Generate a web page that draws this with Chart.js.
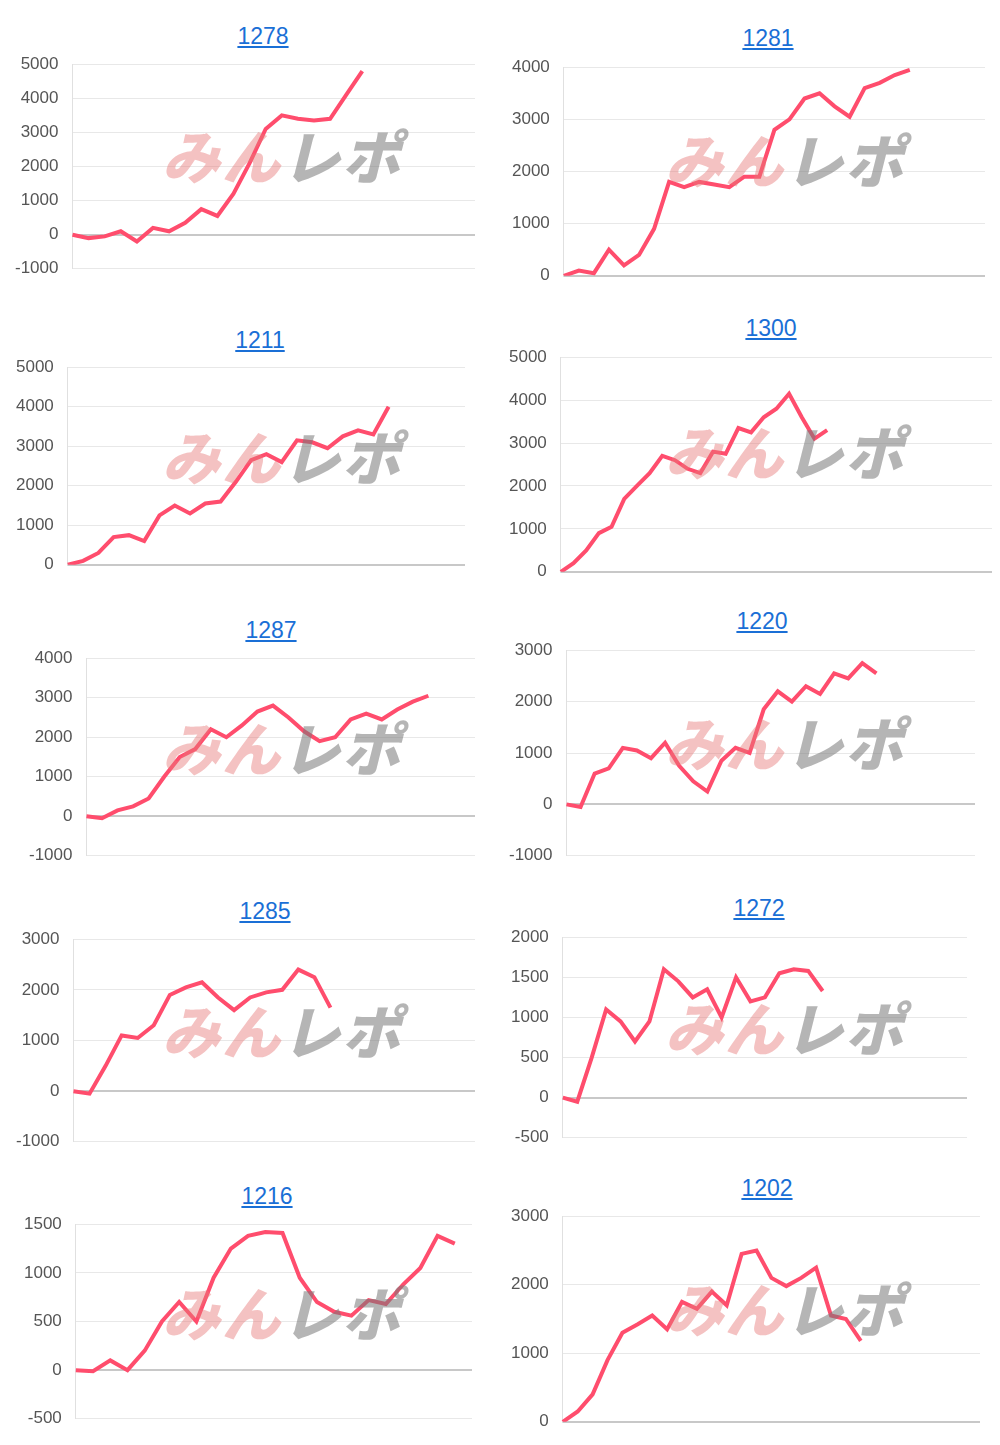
<!DOCTYPE html>
<html>
<head>
<meta charset="utf-8">
<script src="https://cdn.jsdelivr.net/npm/chart.js@4/dist/chart.umd.min.js"></script>
<style>
  body { margin: 0; background: #fff; font-family: "Liberation Sans", Arial, sans-serif; }
  .cell { position: absolute; }
  .ttl { position: absolute; width: 200px; text-align: center; color: #1a6fd6;
    text-decoration: underline; font-size: 23px; }
  .cell canvas { position: absolute; left: 0; }
  .wm { position: absolute; font-weight: 900; font-style: italic; font-size: 58px;
    letter-spacing: 2px; font-family: "Noto Sans CJK JP", sans-serif; pointer-events: none; line-height: 1; }
  .wm .a { color: rgba(230,120,120,0.45); }
  .wm .b { color: rgba(120,120,120,0.55); }
</style>
</head>
<body>
<script>
const titles = ["1278", "1281", "1211", "1300", "1287", "1220", "1285", "1272", "1216", "1202"];
const labelCounts = [26, 29, 27, 35, 26, 30, 26, 29, 24, 29];
const vals1278 = [0, -100, -50, 100, -200, 200, 100, 350, 750, 550, 1200, 2100, 3100, 3500, 3400, 3350, 3400, 4100, 4800];
const vals1281 = [0, 100, 50, 500, 200, 400, 900, 1800, 1700, 1800, 1750, 1700, 1900, 1900, 2800, 3000, 3400, 3500, 3250, 3050, 3600, 3700, 3850, 3950];
const vals1211 = [0, 100, 300, 700, 750, 600, 1250, 1500, 1300, 1550, 1600, 2100, 2650, 2800, 2600, 3150, 3100, 2950, 3250, 3400, 3300, 4000];
const vals1300 = [0, 200, 500, 900, 1050, 1700, 2000, 2300, 2700, 2600, 2400, 2300, 2800, 2750, 3350, 3250, 3600, 3800, 4150, 3600, 3100, 3300];
const vals1287 = [0, -50, 150, 250, 450, 1000, 1500, 1700, 2200, 2000, 2300, 2650, 2800, 2500, 2150, 1900, 2000, 2450, 2600, 2450, 2700, 2900, 3050];
const vals1220 = [0, -50, 600, 700, 1100, 1050, 900, 1200, 750, 450, 250, 850, 1100, 1000, 1850, 2200, 2000, 2300, 2150, 2550, 2450, 2750, 2550];
const vals1285 = [0, -50, 500, 1100, 1050, 1300, 1900, 2050, 2150, 1850, 1600, 1850, 1950, 2000, 2400, 2250, 1650];
const vals1272 = [0, -50, 500, 1100, 950, 700, 950, 1600, 1450, 1250, 1350, 1000, 1500, 1200, 1250, 1550, 1600, 1580, 1330];
const vals1216 = [0, -10, 100, 0, 200, 500, 700, 500, 950, 1250, 1380, 1420, 1410, 950, 700, 600, 560, 720, 680, 880, 1050, 1380, 1300];
const vals1202 = [0, 150, 400, 900, 1300, 1420, 1550, 1350, 1750, 1650, 1900, 1700, 2450, 2500, 2100, 1980, 2100, 2250, 1550, 1500, 1180];
const series = [vals1278, vals1281, vals1211, vals1300, vals1287, vals1220, vals1285, vals1272, vals1216, vals1202];
const yMin = [-1000, 0, 0, 0, -1000, -1000, -1000, -500, -500, 0];
const yMax = [5000, 4000, 5000, 5000, 4000, 3000, 3000, 2000, 1500, 3000];
const ySteps = [1000, 1000, 1000, 1000, 1000, 1000, 1000, 500, 500, 1000];

// layout: [left, width, titleY, plotTop, plotBottom, titleCenterX, leftPad]
const boxes = [
  [0, 475, 37, 64, 268, 263, 1], [495, 490, 39, 67, 275, 768, 3],
  [0, 465, 341, 367, 564, 260, 2], [495, 497, 329, 357, 571, 771, 0],
  [15, 460, 631, 658, 855, 271, 0], [495, 480, 622, 650, 855, 762, 0],
  [0, 475, 912, 939, 1141, 265, 2], [495, 472, 909, 937, 1137, 759, 2],
  [10, 462, 1197, 1224, 1418, 267, 0], [495, 485, 1189, 1216, 1421, 767, 2]
];

series.forEach((vals, i) => {
  const [left, width, ty, top, bottom, tcx, lpad] = boxes[i];
  const a = document.createElement("a");
  a.href = "#";
  a.className = "ttl";
  a.textContent = titles[i];
  a.style.left = (tcx - 100) + "px";
  a.style.top = (ty - 14) + "px";
  document.body.appendChild(a);

  const cell = document.createElement("div");
  cell.className = "cell";
  cell.style.left = left + "px";
  cell.style.top = "0px";
  cell.style.width = width + "px";
  const cv = document.createElement("canvas");
  const h = bottom - top + 49;
  cv.style.top = (top - 24) + "px";
  cv.style.width = width + "px";
  cv.style.height = h + "px";
  cell.appendChild(cv);
  document.body.appendChild(cell);

  const wm = document.createElement("div");
  wm.className = "wm";
  wm.innerHTML = '<span class="a">みん</span><span class="b">レポ</span>';
  wm.style.left = (i % 2 ? 665 : 162) + "px";
  wm.style.top = (top + (bottom - top) * 0.3) + "px";
  document.body.appendChild(wm);

  const labels = Array.from({ length: labelCounts[i] }, (_, k) => String(k + 1));
  new Chart(cv, {
    type: "line",
    data: {
      labels: labels,
      datasets: [{
        data: vals,
        borderColor: "#ff4d6d",
        borderWidth: 4,
        pointRadius: 0,
        tension: 0,
        fill: false
      }]
    },
    options: {
      responsive: false,
      animation: false,
      devicePixelRatio: 1,
      layout: { padding: { top: 0, bottom: 0, right: 0, left: lpad } },
      plugins: { legend: { display: false }, tooltip: { enabled: false } },
      scales: {
        x: {
          ticks: { display: false },
          grid: { display: false },
          border: { display: false }
        },
        y: {
          min: yMin[i],
          max: yMax[i],
          ticks: {
            stepSize: ySteps[i],
            color: "#555",
            font: { size: 17, family: "Liberation Sans" },
            padding: 14,
            callback: v => String(v)
          },
          grid: {
            color: ctx => ctx.tick && ctx.tick.value === 0 ? "#c8c8c8" : "#e8e8e8",
            lineWidth: ctx => ctx.tick && ctx.tick.value === 0 ? 2 : 1,
            drawTicks: false
          },
          border: { color: "#e0e0e0" }
        }
      }
    }
  });
});
</script>
</body>
</html>
